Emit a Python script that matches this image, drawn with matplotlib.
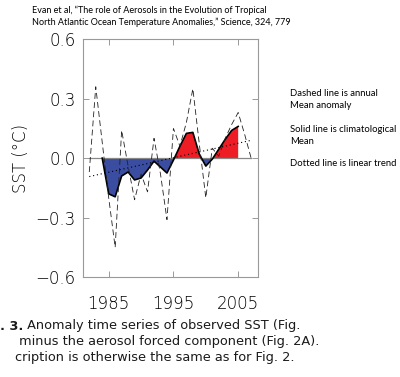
import numpy as np
import matplotlib
matplotlib.use("Agg")
import matplotlib.pyplot as plt

# annual mean anomaly (dashed)
years = [1982, 1983, 1984, 1985, 1986, 1987, 1988, 1989, 1990, 1991, 1992, 1993,
         1994, 1995, 1996, 1997, 1998, 1999, 2000, 2001, 2002, 2003, 2004, 2005,
         2006, 2007]
annual = [-0.07, 0.36, 0.08, -0.20, -0.45, 0.14, -0.04, -0.21, -0.08, -0.17, 0.10, -0.08,
          -0.31, 0.15, 0.06, 0.18, 0.35, 0.07, -0.20, 0.05, 0.01, 0.10, 0.17, 0.23,
          0.12, 0.00]

# smoothed (solid) series
smooth_years = [1984, 1985, 1986, 1987, 1988, 1989, 1990, 1991, 1992, 1993, 1994,
                1995, 1996, 1997, 1998, 1999, 2000, 2001, 2002, 2003, 2004, 2005]
smooth = [0.0, -0.18, -0.195, -0.09, -0.07, -0.11, -0.10, -0.06, -0.015, -0.045, -0.075,
          -0.01, 0.06, 0.125, 0.13, 0.02, -0.04, -0.005, 0.045, 0.095, 0.14, 0.16]

# linear trend (dotted) end points
trend_years = [1982, 2007]
trend_vals = [-0.093, 0.09]

xticks = [1985, 1995, 2005]
yticks = [-0.6, -0.3, 0.0, 0.3, 0.6]

header = ["Evan et al, \u201cThe role of Aerosols in the Evolution of Tropical",
          "North Atlantic Ocean Temperature Anomalies,\u201d Science, 324, 779"]
notes = ["Dashed line is annual", "Mean anomaly", "Solid line is climatological",
         "Mean", "Dotted line is linear trend"]
caption_bold = ". 3."
caption = [" Anomaly time series of observed SST (Fig.",
           " minus the aerosol forced component (Fig. 2A).",
           "cription is otherwise the same as for Fig. 2."]

fig = plt.figure(figsize=(4.0, 3.77), dpi=100)
ax = fig.add_axes([0.207, 0.265, 0.437, 0.631])

sx = np.array(smooth_years, dtype=float)
sy = np.array(smooth)
ax.fill_between(sx, sy, 0, where=sy >= 0, interpolate=True, color="#ee1c24", lw=0)
ax.fill_between(sx, sy, 0, where=sy <= 0, interpolate=True, color="#3a4da0", lw=0)
ax.plot([trend_years[0], trend_years[-1]], [0, 0], color="#888888", lw=0.9)
ax.plot(sx, sy, color="black", lw=1.2)
ax.plot(years, annual, color="#222222", lw=0.6, ls=(0, (7, 4)))
ax.plot(trend_years, trend_vals, color="black", lw=0.8, ls=(0, (1, 2.5)))

ax.set_xlim(1981, 2008)
ax.set_ylim(-0.6, 0.6)
ax.set_xticks(xticks)
ax.set_xticklabels([str(t) for t in xticks])
ax.set_yticks(yticks)
ax.set_yticklabels(["\u22120.6", "\u22120.3", "0.0", "0.3", "0.6"])
ax.tick_params(direction="in", length=4, width=0.7, color="#999999",
               top=True, right=True, labelsize=12, labelcolor="black")
ax.tick_params(axis="x", pad=13)
ax.tick_params(axis="y", pad=5)
for lab in ax.get_xticklabels() + ax.get_yticklabels():
    lab.set_fontweight(200)
for s in ax.spines.values():
    s.set_color("#999999")
    s.set_linewidth(0.8)
ax.set_ylabel("SST (\u00b0C)", fontsize=12, labelpad=4, fontweight=200, color="black")

for i, line in enumerate(header):
    fig.text(32 / 400, 1 - (10 + 12.5 * i) / 377, line, fontsize=6.5, family="Lato",
             va="center", ha="left")

note_y = [93, 105, 130, 142, 164]
for t, y in zip(notes, note_y):
    fig.text(290 / 400, 1 - y / 377, t, fontsize=6.8, family="Lato", va="center", ha="left")

cap_y = [326, 342, 358]
b = fig.text(0.0, 1 - cap_y[0] / 377, caption_bold, fontsize=9.3, fontweight="bold",
             va="center", ha="left", color="#1a1a1a")
fig.canvas.draw()
bb = b.get_window_extent()
fig.text(bb.x1 / fig.bbox.width, 1 - cap_y[0] / 377, caption[0], fontsize=9.3,
         va="center", ha="left", color="#1a1a1a")
for t, y in zip(caption[1:], cap_y[1:]):
    fig.text(15 / 400, 1 - y / 377, t, fontsize=9.3, va="center", ha="left",
             color="#1a1a1a")

fig.savefig("out.png", dpi=100)
